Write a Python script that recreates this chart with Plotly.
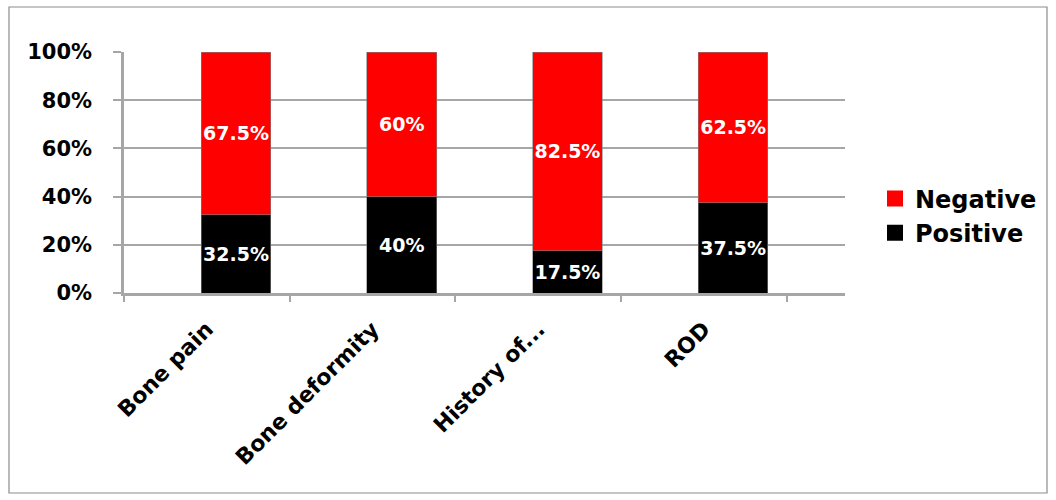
import plotly.graph_objects as go

categories = ["Bone pain", "Bone deformity", "History of...", "ROD"]
positive = [32.5, 40, 17.5, 37.5]
negative = [67.5, 60, 82.5, 62.5]
series_names = ["Positive", "Negative"]
colors = ["#000000", "#ff0000"]

# category-slot boundaries (tick marks) on the x axis, in category units
boundary_ticks = [-0.676, 0.324, 1.324, 2.324, 3.324]
label_pos = [b + 0.5 for b in boundary_ticks[:-1]]

FONT = "DejaVu Sans"
xrange = [-0.676, 3.675]
grid = "#a6a6a6"

fig = go.Figure()
for name, vals, col in zip(series_names, [positive, negative], colors):
    fig.add_trace(go.Bar(
        x=categories, y=[v / 100 for v in vals], name=name,
        marker=dict(color=col, line=dict(color="#808080", width=0.6)),
        width=0.42,
        text=[f"{v:g}%" for v in vals], textposition="inside", textangle=0,
        insidetextanchor="middle", constraintext="none",
        textfont=dict(family=FONT, size=19, color="white", weight="bold"),
        showlegend=False,
    ))

# legend entries (square swatches)
for name, col in zip(series_names, colors):
    fig.add_trace(go.Scatter(
        x=[None], y=[None], mode="markers", name=name, legendgroup=name,
        marker=dict(symbol="square", size=16, color=col),
    ))

# helper trace for the label / tick axis
fig.add_trace(go.Scatter(x=label_pos, y=[0] * len(label_pos), xaxis="x2",
                         mode="markers", marker=dict(opacity=0), showlegend=False,
                         hoverinfo="skip"))

fig.update_layout(
    width=1056, height=500,
    margin=dict(l=124, r=211, t=52, b=207),
    paper_bgcolor="white", plot_bgcolor="white",
    barmode="stack",
    showlegend=True,
    legend=dict(x=(875 - 124) / 721, y=(293 - 216) / 241, xanchor="left", yanchor="middle",
                traceorder="reversed", tracegroupgap=11, itemwidth=30,
                font=dict(family=FONT, size=24, color="black", weight="bold")),
    xaxis=dict(range=xrange, showgrid=False, ticks="", showticklabels=False,
               showline=True, linecolor=grid, linewidth=2.5),
    xaxis2=dict(range=xrange, overlaying="x", side="bottom", tickmode="array",
                tickvals=label_pos, ticktext=categories, ticks="", tickangle=-45,
                ticklabelstandoff=18,
                tickfont=dict(family=FONT, size=22, color="black", weight="bold"),
                minor=dict(tickmode="array", tickvals=boundary_ticks, ticks="outside",
                           ticklen=8, tickwidth=2, tickcolor=grid, showgrid=False),
                showgrid=False, showline=False, zeroline=False),
    yaxis=dict(range=[0, 1], dtick=0.2, tickformat=".0%", showgrid=True,
               gridcolor=grid, gridwidth=2, showline=True, linecolor=grid,
               linewidth=2.5, ticks="outside", ticklen=8, tickwidth=2, tickcolor=grid,
               zeroline=False, ticklabelstandoff=17,
               tickfont=dict(family=FONT, size=21, color="black", weight="bold")),
    shapes=[dict(type="rect", xref="paper", yref="paper",
                 x0=-115 / 721, x1=1 + 202 / 721, y0=-200 / 241, y1=1 + 45 / 241,
                 line=dict(color="#8c8c8c", width=1.2), fillcolor="rgba(0,0,0,0)",
                 layer="below")],
)
fig.write_html("out.html")
